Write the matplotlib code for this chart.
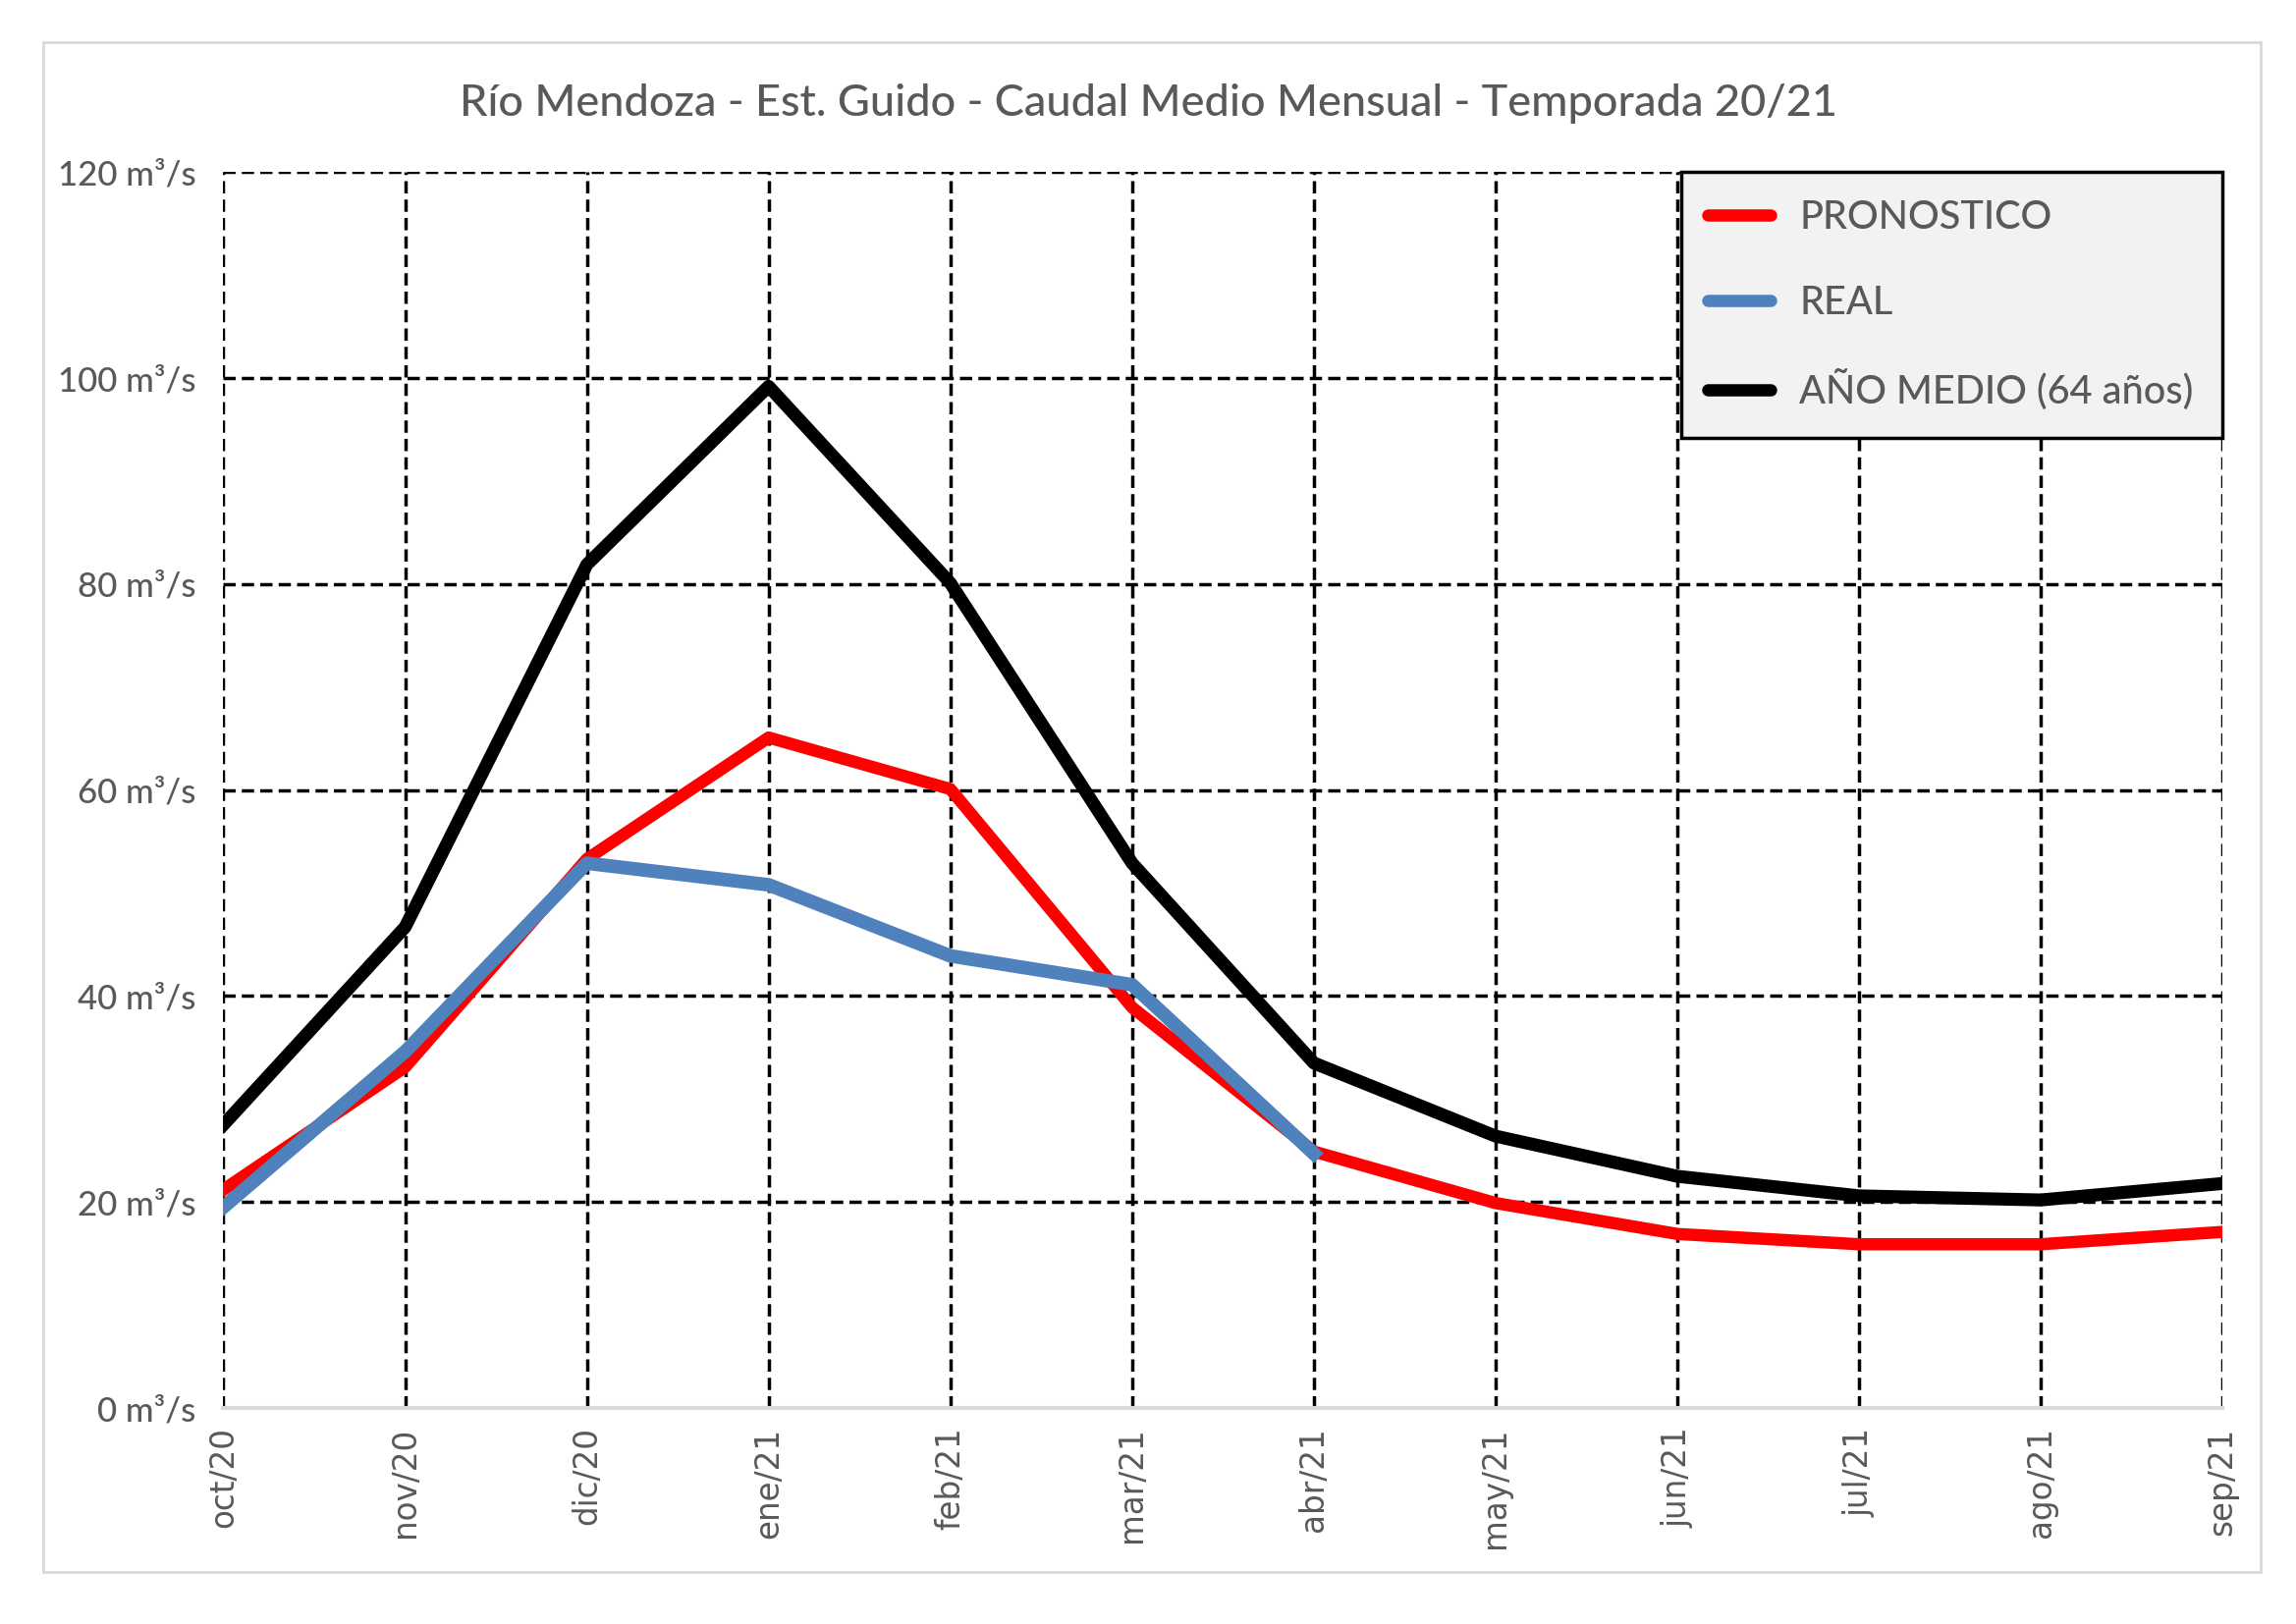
import matplotlib
matplotlib.use("Agg")
import matplotlib.pyplot as plt
from matplotlib.patches import Rectangle

meses = ["oct/20", "nov/20", "dic/20", "ene/21", "feb/21", "mar/21",
         "abr/21", "may/21", "jun/21", "jul/21", "ago/21", "sep/21"]
pronostico = [21.2, 33.1, 53.3, 65.1, 60.1, 38.9, 24.9, 19.9, 16.9, 15.9, 15.9, 17.1]
real = [19.5, 34.6, 52.9, 50.8, 43.9, 41.1, 24.7]
anio_medio = [27.5, 46.7, 81.9, 99.2, 80.1, 52.9, 33.5, 26.4, 22.5, 20.6, 20.2, 21.8]
yticks = [0, 20, 40, 60, 80, 100, 120]

gris = "#595959"
plt.rcParams["font.family"] = ["Lato", "DejaVu Sans"]
plt.rcParams["font.weight"] = "medium"

fig = plt.figure(figsize=(23.38, 16.54), dpi=100)
fig.patches.append(Rectangle((0.0187, 0.032), 0.966, 0.942, transform=fig.transFigure,
                             fill=False, edgecolor="#d9d9d9", linewidth=2))
ax = fig.add_axes([0.0973, 0.133, 0.8707, 0.761])

x = list(range(len(meses)))
ax.plot(x, anio_medio, color="black", lw=9.5, label="AÑO MEDIO (64 años)", zorder=3,
        solid_joinstyle="round")
ax.plot(x, pronostico, color="#ff0000", lw=9, label="PRONOSTICO", zorder=4,
        solid_joinstyle="round")
ax.plot(x[:len(real)], real, color="#4f81bd", lw=10, label="REAL", zorder=5,
        solid_joinstyle="round")

ax.set_xlim(0, 11)
ax.set_ylim(0, 120)
ax.set_xticks(x)
ax.set_xticklabels(meses, rotation=90, family="DejaVu Sans", fontsize=23.5, color=gris)
ax.set_yticks(yticks)
ax.set_yticklabels([f"{v} m³/s" for v in yticks], fontsize=25, color=gris)
ax.tick_params(axis="both", length=0)
ax.tick_params(axis="y", pad=20)
ax.tick_params(axis="x", pad=14)

ax.grid(True, color="black", lw=2.5, ls=(0, (3.6, 1.8)), zorder=1)
ax.get_ygridlines()[0].set_visible(False)
for s in ["left", "right", "top"]:
    ax.spines[s].set_visible(False)
ax.spines["bottom"].set_color("#d9d9d9")
ax.spines["bottom"].set_linewidth(3)

fig.text(0.5, 0.936, "Río Mendoza - Est. Guido - Caudal Medio Mensual - Temporada 20/21",
         ha="center", va="center", fontsize=32.5, color=gris)

handles, labels = ax.get_legend_handles_labels()
order = [1, 2, 0]
leg = ax.legend([handles[i] for i in order], [labels[i] for i in order],
                loc="upper left", bbox_to_anchor=(0.729, 0, 0.271, 1.0), mode="expand",
                borderaxespad=0, fancybox=False, framealpha=1, fontsize=28.5,
                handlelength=1.6, handletextpad=0.75, labelspacing=1.25,
                borderpad=0.7, labelcolor=gris)
leg.get_frame().set_facecolor("#f2f2f2")
leg.get_frame().set_edgecolor("black")
leg.get_frame().set_linewidth(2.5)
leg.set_zorder(10)
for h in leg.get_lines():
    h.set_linewidth(9)
    h.set_solid_capstyle("round")

fig.savefig("out.png", dpi=100)
